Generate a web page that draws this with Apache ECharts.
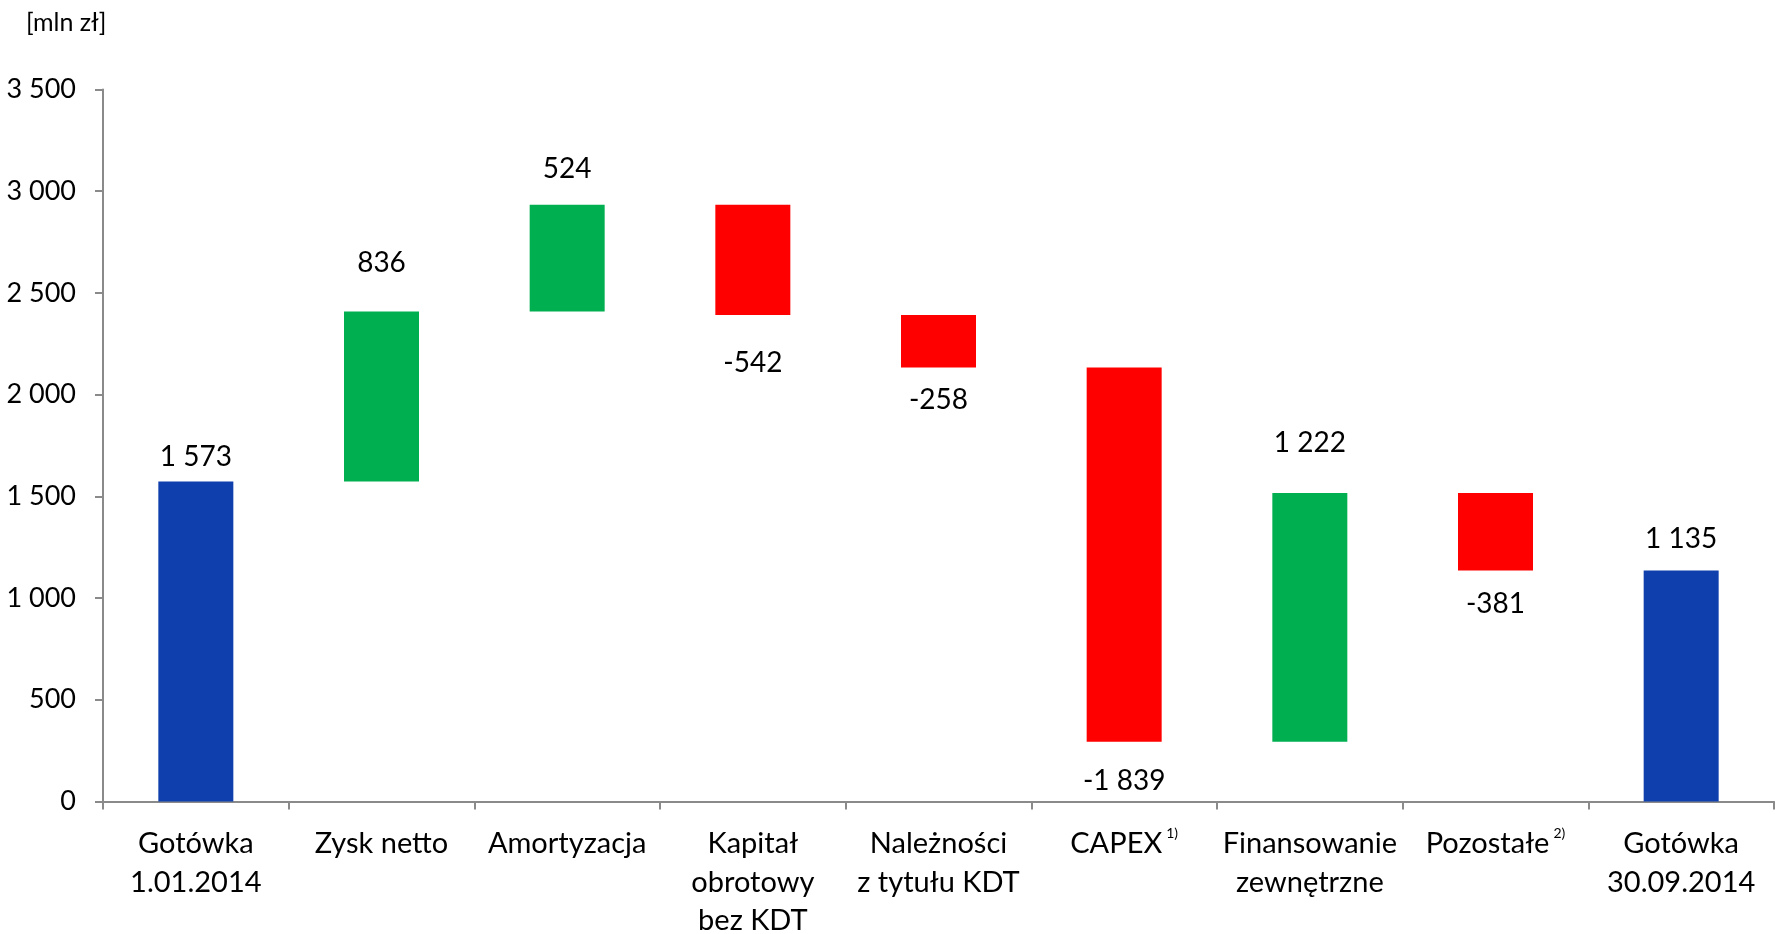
<!DOCTYPE html>
<html lang="pl">
<head>
    <meta charset="UTF-8">
    <title>Przepływy pieniężne</title>
    <style>
        html, body { margin: 0; padding: 0; background: #fff; }
        #main { width: 1775px; height: 934px; }
    </style>
</head>
<body>
    <div id="main"></div>
    <script src="https://cdn.jsdelivr.net/npm/echarts@6/dist/echarts.min.js"></script>
    <script>
        // dane
        var categories = ['Gotówka\n1.01.2014', 'Zysk netto', 'Amortyzacja', 'Kapitał\nobrotowy\nbez KDT',
            'Należności\nz tytułu KDT', 'CAPEX', 'Finansowanie\nzewnętrzne', 'Pozostałe', 'Gotówka\n30.09.2014'];
        var footnotes = ['', '', '', '', '', '1)', '', '2)', ''];
        var values = [1573, 836, 524, -542, -258, -1839, 1222, -381, 1135];
        var isTotal = [true, false, false, false, false, false, false, false, true];
        var yTicks = [0, 500, 1000, 1500, 2000, 2500, 3000, 3500];

        // odstep etykiety od slupka (styl)
        var labelGap = [11, 34, 22, 34, 18, 25, 36, 19, 18];

        var colors = { total: '#0F3EAD', up: '#00AF50', down: '#FF0000' };
        var font = 'Lato, "Noto Sans", sans-serif';

        function fmt(v) {
            var s = String(Math.abs(v)).replace(/\B(?=(\d{3})+(?!\d))/g, ' ');
            return (v < 0 ? '-' : '') + s;
        }

        var baseData = [];
        var barData = [];
        var running = 0;
        for (var i = 0; i < values.length; i++) {
            var v = values[i];
            var color, base, pos;
            if (isTotal[i]) {
                base = 0;
                running = v;
                color = colors.total;
                pos = 'top';
            } else if (v >= 0) {
                base = running;
                running += v;
                color = colors.up;
                pos = 'top';
            } else {
                running += v;
                base = running;
                color = colors.down;
                pos = 'bottom';
            }
            baseData.push(base);
            barData.push({
                value: Math.abs(v),
                raw: v,
                itemStyle: { color: color },
                label: { position: pos, distance: labelGap[i] }
            });
        }

        var myChart = echarts.init(document.getElementById('main'));

        var option = {
            animation: false,
            textStyle: { fontFamily: font },
            title: {
                text: '[mln zł]',
                left: 21,
                top: 5,
                textStyle: { fontFamily: font, fontSize: 25, fontWeight: 'normal', color: '#000' }
            },
            grid: {
                left: 103,
                right: 1,
                top: 89.5,
                bottom: 132.5,
                containLabel: false,
                outerBoundsMode: 'none'
            },
            xAxis: {
                type: 'category',
                data: categories,
                boundaryGap: true,
                axisLine: { lineStyle: { color: '#8a8a8a', width: 2 } },
                axisTick: { show: true, interval: 0, length: 8, lineStyle: { color: '#8a8a8a', width: 2 } },
                axisLabel: {
                    interval: 0,
                    margin: 23,
                    color: '#000',
                    fontFamily: font,
                    fontSize: 29,
                    lineHeight: 38.5,
                    formatter: function (val, idx) {
                        var n = footnotes[idx];
                        return n ? val + '{sup|' + n + '}' : val;
                    },
                    rich: {
                        sup: { fontSize: 14, fontFamily: font, color: '#000', verticalAlign: 'top', lineHeight: 38, padding: [2, 0, 0, 4] }
                    }
                }
            },
            yAxis: {
                type: 'value',
                min: yTicks[0],
                max: yTicks[yTicks.length - 1],
                interval: yTicks[1] - yTicks[0],
                splitLine: { show: false },
                axisLine: { show: true, lineStyle: { color: '#8a8a8a', width: 2 } },
                axisTick: { show: true, length: 8, lineStyle: { color: '#8a8a8a', width: 2 } },
                axisLabel: {
                    margin: 27,
                    color: '#000',
                    fontFamily: font,
                    fontSize: 27,
                    formatter: function (v) { return fmt(v); }
                }
            },
            series: [
                {
                    name: 'base',
                    type: 'bar',
                    stack: 'w',
                    barWidth: 75,
                    itemStyle: { color: 'transparent' },
                    emphasis: { disabled: true },
                    data: baseData
                },
                {
                    name: 'zmiana',
                    type: 'bar',
                    stack: 'w',
                    barWidth: 75,
                    label: {
                        show: true,
                        color: '#000',
                        fontFamily: font,
                        fontSize: 28,
                        formatter: function (p) { return fmt(p.data.raw); }
                    },
                    data: barData
                }
            ]
        };

        myChart.setOption(option);
    </script>
</body>
</html>
